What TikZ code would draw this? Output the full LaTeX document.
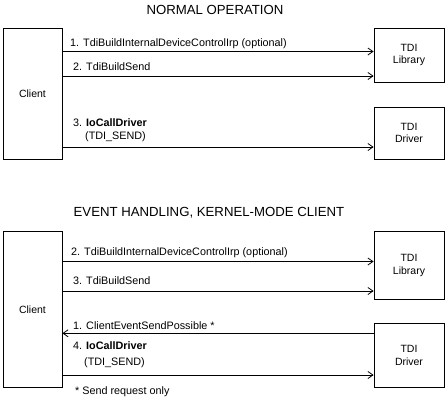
\documentclass[tikz,border=0pt]{standalone}
\usepackage{fontspec}
\setmainfont{Liberation Sans}
\usetikzlibrary{arrows.meta}

\begin{document}
\begin{tikzpicture}[x=1pt,y=-1pt,
  box/.style={draw,line width=0.8pt,align=center,inner sep=0pt,font=\fontsize{10.5}{12.5}\selectfont},
  msg/.style={line width=0.8pt,-{Straight Barb[length=5pt,width=7pt]}},
  lbl/.style={anchor=west,inner sep=0pt,text height=0.72em,text depth=0pt,font=\fontsize{10.8}{12.5}\selectfont},
  ttl/.style={inner sep=0pt,text height=0.72em,text depth=0pt,font=\fontsize{13.2}{15}\selectfont}]
  \useasboundingbox (0,0) rectangle (445,400);
  % normal operation
  \node[ttl] (title1) at (215,11) {NORMAL OPERATION};
  \node[box,minimum width=59pt,minimum height=131pt] (client1) at (32.5,93.5) {Client};
  \node[box,minimum width=70pt,minimum height=54pt] (lib1) at (409,55) {TDI\\Library};
  \node[box,minimum width=70pt,minimum height=52pt] (drv1) at (409,133) {TDI\\Driver};
  \draw[msg] (client1.east |- 0,51.5) -- (lib1.west |- 0,51.5);
  \draw[msg] (client1.east |- 0,76) -- (lib1.west |- 0,76);
  \draw[msg] (client1.east |- 0,147) -- (drv1.west |- 0,147);
  \node[lbl] (l11) at (70,42.5) {1. TdiBuildInternalDeviceControlIrp (optional)};
  \node[lbl] (l12) at (73,66.7) {2. TdiBuildSend};
  \node[lbl] (l13) at (73,123) {3. \textbf{IoCallDriver}};
  \node[lbl] (l13b) at (85,136) {(TDI\_SEND)};
  % event handling
  \node[ttl] (title2) at (209,213) {EVENT HANDLING, KERNEL-MODE CLIENT};
  \node[box,minimum width=59pt,minimum height=155.5pt] (client2) at (32.5,309.25) {Client};
  \node[box,minimum width=70pt,minimum height=67.5pt] (lib2) at (409,265.25) {TDI\\Library};
  \node[box,minimum width=70pt,minimum height=63.5pt] (drv2) at (409,355.25) {TDI\\Driver};
  \draw[msg] (client2.east |- 0,261.5) -- (lib2.west |- 0,261.5);
  \draw[msg] (client2.east |- 0,291) -- (lib2.west |- 0,291);
  \draw[msg] (drv2.west |- 0,333.3) -- (client2.east |- 0,333.3);
  \draw[msg] (client2.east |- 0,375) -- (drv2.west |- 0,375);
  \node[lbl] (l22) at (71,251.5) {2. TdiBuildInternalDeviceControlIrp (optional)};
  \node[lbl] (l23) at (73,281) {3. TdiBuildSend};
  \node[lbl] (l21) at (73,325.7) {1. ClientEventSendPossible *};
  \node[lbl] (l24) at (73,345.7) {4. \textbf{IoCallDriver}};
  \node[lbl] (l24b) at (84,362) {(TDI\_SEND)};
  \node[lbl] (note) at (75,390.7) {* Send request only};
\end{tikzpicture}
\end{document}
